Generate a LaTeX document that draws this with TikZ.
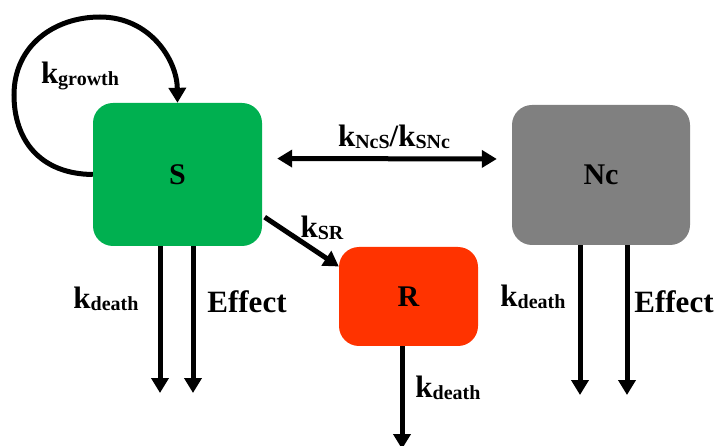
\documentclass[tikz,border=0pt]{standalone}
\usepackage{fontspec}
\setmainfont{Liberation Serif}
\usetikzlibrary{arrows.meta}

\definecolor{sgreen}{HTML}{00B050}
\definecolor{rred}{HTML}{FF3300}
\definecolor{ncgray}{HTML}{808080}

% rate constant: k with a lowered, smaller index
\newcommand{\krate}[1]{k\raisebox{-2pt}{\fontsize{20}{20}\selectfont #1}}

\begin{document}
\begin{tikzpicture}[x=1pt,y=-1pt,>={Triangle[width=17pt,length=15pt]},
    box/.style={rounded corners=20pt, inner sep=0pt, font=\fontsize{30}{30}\selectfont\bfseries},
    flow/.style={line width=5pt, ->},
    rate/.style={inner sep=0pt, font=\fontsize{31}{31}\selectfont\bfseries}]
        \useasboundingbox (0,0) rectangle (723,446);
        %Nodes
        \node[box, fill=sgreen, minimum width=169pt, minimum height=143pt] (S)  at (177.5,174.5) {S};
        \node[box, fill=ncgray, minimum width=178pt, minimum height=140pt] (Nc) at (601,175)     {Nc};
        \node[box, fill=rred,   minimum width=139pt, minimum height=99pt]  (R)  at (408.5,296.5) {R};
        %Sinks
        \coordinate (Sdeath)   at (160,393);
        \coordinate (Seffect)  at (193,393);
        \coordinate (Rdeath)   at (402,449);
        \coordinate (Ncdeath)  at (580,395);
        \coordinate (Nceffect) at (627,395);
        %Lines
        \draw[flow] (S.west) .. controls (40,174) and (14,140) .. (14,95)
                             .. controls (14,45) and (55,17) .. (100,17)
                             .. controls (150,17) and (177,60) .. (S.north);
        \draw[flow, <->, shorten <=15pt, shorten >=15pt] ([yshift=16pt]S.east) -- ([yshift=16pt]Nc.west);
        \draw[flow, shorten <=3pt] ([yshift=-41pt]S.east) -- ([yshift=30pt]R.west);
        \draw[flow] (S.south -| Sdeath) -- (Sdeath);
        \draw[flow] (S.south -| Seffect) -- (Seffect);
        \draw[flow] (R.south -| Rdeath) -- (Rdeath);
        \draw[flow] (Nc.south -| Ncdeath) -- (Ncdeath);
        \draw[flow] (Nc.south -| Nceffect) -- (Nceffect);
        %Labels
        \node[rate] (lgrowth) at (80,76)   {\krate{growth}};
        \node[rate] (lexch)   at (394,137) {\krate{NcS}/\krate{SNc}};
        \node[rate] (lsr)     at (322,228) {\krate{SR}};
        \node[rate] (lsdeath) at (106,299) {\krate{death}};
        \node[rate] (lseff)   at (247,302) {Effect};
        \node[rate] (lrdeath) at (448,388) {\krate{death}};
        \node[rate] (lncdeath) at (533,297) {\krate{death}};
        \node[rate] (lnceff)  at (674,302) {Effect};
    \end{tikzpicture}
\end{document}
